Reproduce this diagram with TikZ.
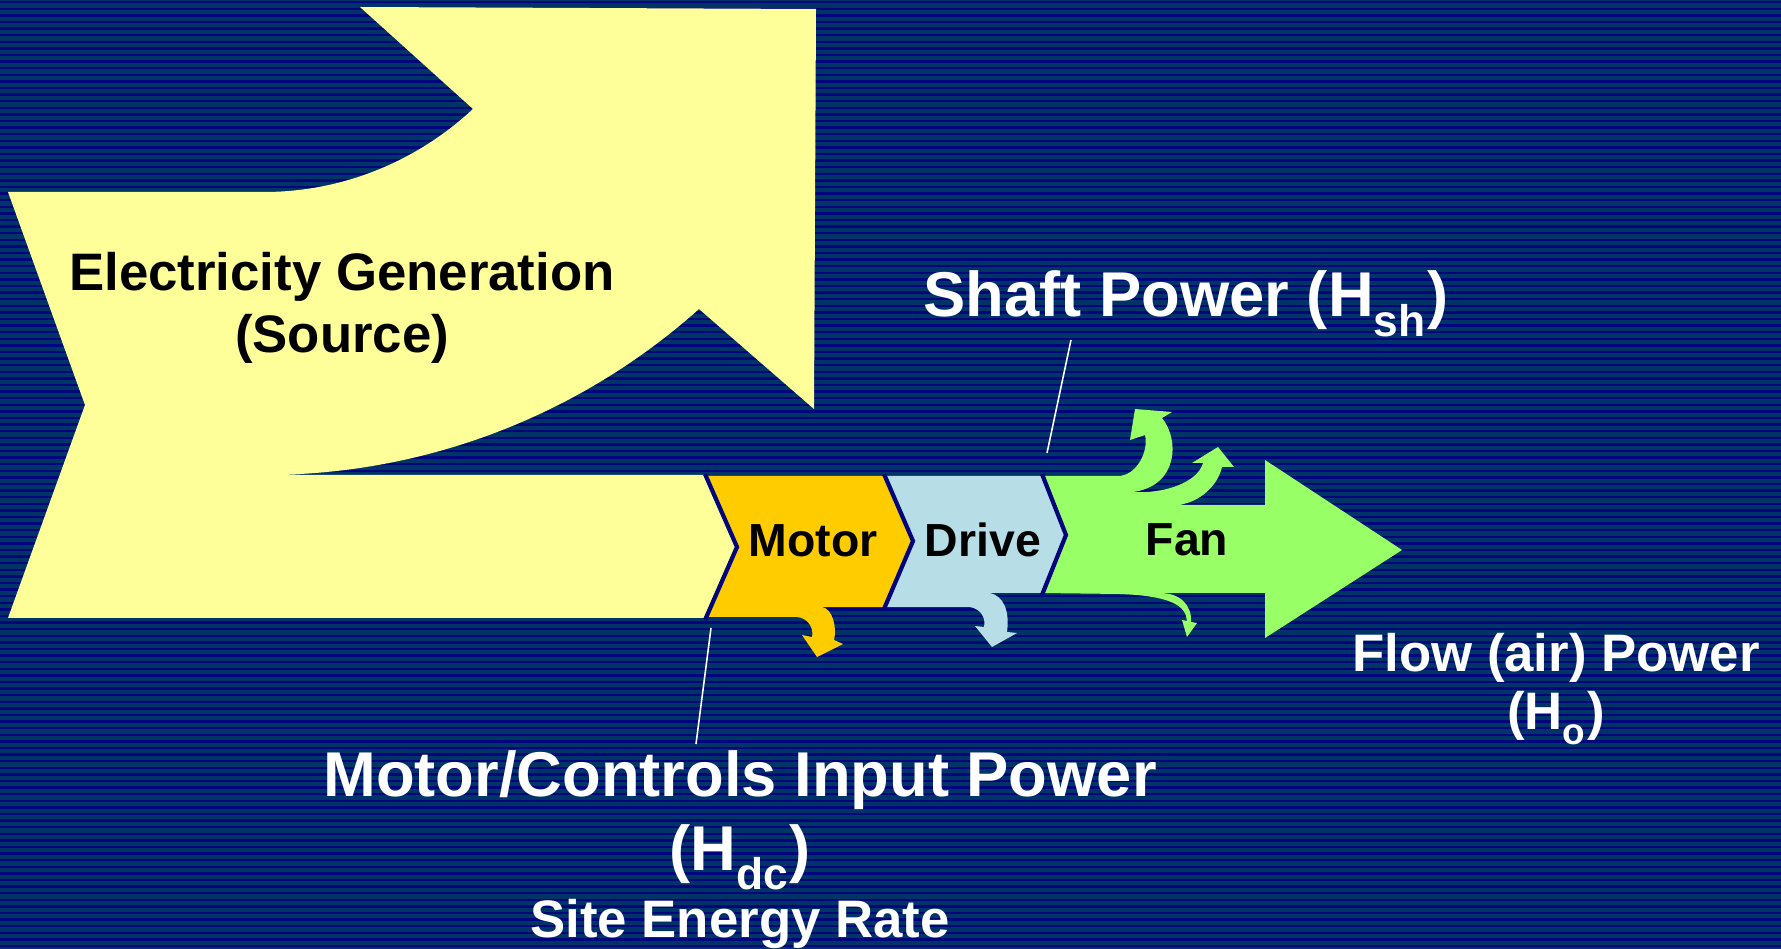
\documentclass[tikz,border=0pt]{standalone}
\usepackage{fontspec}
\setmainfont{Liberation Sans}
\usetikzlibrary{positioning,calc}
\definecolor{bgblue}{RGB}{0,51,102}
\definecolor{bgstripe}{RGB}{0,5,125}
\definecolor{genyellow}{RGB}{255,255,153}
\definecolor{motororange}{RGB}{255,204,0}
\definecolor{drivecyan}{RGB}{183,222,230}
\definecolor{fangreen}{RGB}{153,255,102}
\newcommand\lowsub[1]{\raisebox{-0.13em}{\textsubscript{#1}}}
\tikzset{
    every node/.style={font=\bfseries, inner sep=0pt},
    darklbl/.style={text=black, anchor=base},
    lightlbl/.style={text=white, anchor=base},
    midfont/.style={font=\fontsize{13.2}{16}\selectfont\bfseries},
    medfont/.style={font=\fontsize{15}{18}\selectfont\bfseries},
    bigfont/.style={font=\fontsize{18}{22}\selectfont\bfseries},
    gapline/.style={draw=bgstripe, line width=1.2pt},
    leader/.style={draw=white, line width=0.45pt},
}

\begin{document}
\begin{tikzpicture}[x=0.01cm, y=-0.01cm]
% striped background
\fill[bgblue] (0,0) rectangle (1781,949);
\foreach \k in {0,...,143}{
  \fill[bgstripe] (0,{\k*6.6+1}) rectangle (1781,{\k*6.6+3.4});
}
\useasboundingbox (0,0) rectangle (1781,949);

% source (bent arrow)
\fill[genyellow] (8,192) -- (264,192) .. controls (342,192) and (416,162) .. (473,109) -- (360,7) -- (816,9) -- (814,409) -- (699,309) .. controls (579,416) and (425,475) .. (264,475) -- (705,475) -- (737,547) -- (705,618) -- (8,618) -- (85,405) -- cycle;
% motor
\fill[motororange] (705,476) -- (884,476) -- (913,541) -- (884,607) -- (822,607) .. controls (833,609) and (837,628) .. (834,640) -- (843,644) -- (817,657) -- (802,635) -- (812,637) .. controls (814,628) and (808,618) .. (797,617) -- (705,617) -- (737,547) -- cycle;
% drive
\fill[drivecyan] (884,476) -- (1042,476) -- (1066,535) -- (1041,593) -- (990,593) .. controls (1003,596) and (1010,610) .. (1007,632) -- (1017,633) -- (992,647) -- (975,626) -- (984,627) .. controls (986,618) and (981,609) .. (970,607) -- (884,607) -- (913,541) -- cycle;
% fan
\fill[fangreen] (1042,476) -- (1118,476) .. controls (1136,476) and (1149,452) .. (1145,435) -- (1130,440) -- (1135,409) -- (1172,412) -- (1162,418) .. controls (1180,440) and (1178,486) .. (1133,492) .. controls (1165,494) and (1198,482) .. (1203,463) -- (1192,463) -- (1218,447) -- (1234,467) -- (1222,467) .. controls (1218,485) and (1200,503) .. (1177,505) -- (1265,505) -- (1265,460) -- (1402,550) -- (1265,638) -- (1265,593) -- (1160,593) .. controls (1180,593) and (1192,605) .. (1191,622) -- (1197,623) -- (1187,637) -- (1182,620) -- (1187,621) .. controls (1186,606) and (1172,596) .. (1120,594) -- (1041,593) -- (1066,535) -- cycle;

% dark seams between the stages
\foreach \xt/\xp/\yp/\yb in {705/737/547/620, 884/913/541/609, 1042/1066/535/595}{
  \draw[gapline] (\xt,474) -- (\xp,\yp) -- (\xt,\yb);
}

\node[darklbl, medfont] (gen) at (342,291) {Electricity Generation};
\node[darklbl, medfont] (src) at ($(gen.base)+(0,62)$) {(Source)};
\node[darklbl, midfont] (motor) at (813,557) {Motor};
\node[darklbl, midfont] (drive) at (983,557) {Drive};
\node[darklbl, midfont] (fan) at (1187,556) {Fan};

\node[lightlbl, bigfont] (shaft) at (1186,317) {Shaft Power (H\lowsub{sh})};
\node[lightlbl, bigfont] (input) at (740,797) {Motor/Controls Input Power};
\node[lightlbl, bigfont] (hdc) at ($(input.base)+(0,73)$) {(H\lowsub{dc})};
\node[lightlbl, medfont] (site) at ($(hdc.base)+(0,67)$) {Site Energy Rate};
\node[lightlbl, medfont] (flow) at (1556,672) {Flow (air) Power};
\node[lightlbl, medfont] (ho) at ($(flow.base)+(0,58)$) {(H\lowsub{o})};

% leader lines
\coordinate (shaftfoot) at (1047,453);
\coordinate (shafttip) at (1071,340);
\coordinate (inputfoot) at (711,628);
\coordinate (inputtip) at (696,744);
\draw[leader] (shaftfoot) -- (shafttip);
\draw[leader] (inputfoot) -- (inputtip);
\end{tikzpicture}
\end{document}
